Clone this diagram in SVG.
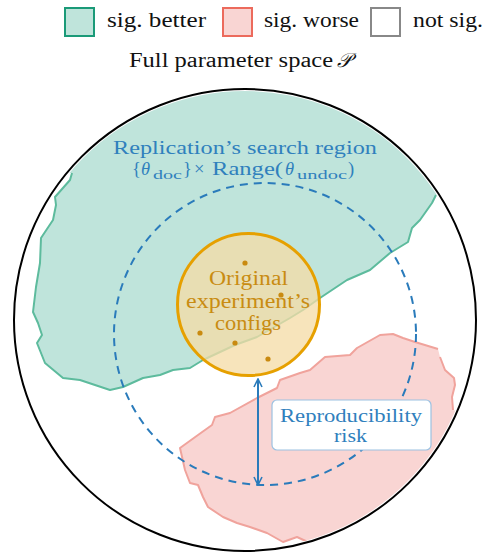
<svg xmlns="http://www.w3.org/2000/svg" width="490" height="555" viewBox="0 0 490 555">
<style>
.serif{font-family:"Liberation Serif","DejaVu Serif",serif}
.leg{font-size:20px;fill:#111}
.blue{fill:#2f80bd}
.orng{fill:#c98c12;font-size:20.5px}
.dot{fill:#c98a10}
</style>
<defs>
<clipPath id="inner"><circle cx="245" cy="320" r="229"/></clipPath>
<marker id="ah" viewBox="0 0 10 10" refX="9" refY="5" markerWidth="10" markerHeight="10" markerUnits="userSpaceOnUse" orient="auto-start-reverse">
<path d="M1,1 L9,5 L1,9" fill="none" stroke="#2a7bbb" stroke-width="1.6" stroke-linejoin="miter"/>
</marker>
</defs>
<rect width="490" height="555" fill="#fff"/>
<g id="legend">
<rect x="65" y="8" width="29" height="28" fill="#bfe4db" stroke="#1a9a78" stroke-width="2"/>
<text class="serif leg" x="107" y="27" textLength="99" lengthAdjust="spacingAndGlyphs">sig. better</text>
<rect x="223" y="8" width="29" height="28" fill="#f9d5d3" stroke="#ec6a5c" stroke-width="2"/>
<text class="serif leg" x="264" y="27" textLength="95" lengthAdjust="spacingAndGlyphs">sig. worse</text>
<rect x="371" y="8" width="29" height="28" fill="#fff" stroke="#888" stroke-width="2"/>
<text class="serif leg" x="413" y="27" textLength="70" lengthAdjust="spacingAndGlyphs">not sig.</text>
</g>
<g id="space-title">
<text class="serif leg" x="129" y="67" textLength="204" lengthAdjust="spacingAndGlyphs">Full parameter space</text>
<text x="337" y="67" font-family="DejaVu Serif, serif" font-style="italic" font-size="20" fill="#111">𝒫</text>
</g>
<g id="sig-better-region" clip-path="url(#inner)">
<polygon fill="#bfe4db" points="72,173 70,180 55,197 56,205 53,220 41,238 40,263 36,287 33,312 38,323 42,335 37,343 45,363 63,378 80,380 110,390 123,387 143,378 160,375 173,370 190,368 203,360 235,345 257,337 290,318 303,310 320,298 347,280 370,270 390,253 408,242 412,228 420,220 432,203 436,195 480,160 480,60 10,60 10,173"/>
<polyline fill="none" stroke="#5dbb9d" stroke-width="2" stroke-linejoin="round" points="72,173 70,180 55,197 56,205 53,220 41,238 40,263 36,287 33,312 38,323 42,335 37,343 45,363 63,378 80,380 110,390 123,387 143,378 160,375 173,370 190,368 203,360 235,345 257,337 290,318 303,310 320,298 347,280 370,270 390,253 408,242 412,228 420,220 432,203 436,195"/>
</g>
<g id="sig-worse-region" clip-path="url(#inner)">
<polygon fill="#f9d5d3" points="310,543 297,537 283,542 267,533 250,527 237,523 223,517 208,507 203,497 198,485 190,483 185,470 180,448 198,435 212,425 215,417 230,413 257,398 277,388 280,380 300,373 310,370 325,357 350,355 357,348 380,335 393,334 403,338 415,342 438,349 440,357 445,370 454,378 455,385 452,397 453,410 490,420 490,560 310,560"/>
<polyline fill="none" stroke="#f0a39c" stroke-width="2" stroke-linejoin="round" points="310,543 297,537 283,542 267,533 250,527 237,523 223,517 208,507 203,497 198,485 190,483 185,470 180,448 198,435 212,425 215,417 230,413 257,398 277,388 280,380 300,373 310,370 325,357 350,355 357,348 380,335 393,334 403,338 415,342 438,349"/>
<polyline fill="none" stroke="#f0a39c" stroke-width="2" stroke-linejoin="round" points="440,357 445,370 454,378 455,385 452,397 453,410"/>
</g>
<g id="parameter-space">
<circle cx="245" cy="320" r="231" fill="none" stroke="#000" stroke-width="2"/>
</g>
<g id="search-region">
<circle cx="265" cy="334" r="151" fill="none" stroke="#2a7bbb" stroke-width="2" stroke-dasharray="8 6"/>
<text class="serif blue" x="113" y="154" font-size="18.5" textLength="264" lengthAdjust="spacingAndGlyphs">Replication’s search region</text>
<text class="serif blue" y="175" font-size="18.5">
<tspan x="132">{</tspan><tspan x="141" font-style="italic">θ</tspan><tspan x="153" y="179" font-size="13" textLength="29" lengthAdjust="spacingAndGlyphs">doc</tspan><tspan x="183" y="175">}</tspan><tspan x="194">×</tspan><tspan x="212" textLength="71" lengthAdjust="spacingAndGlyphs">Range(</tspan><tspan x="285" font-style="italic">θ</tspan><tspan x="297" y="179" font-size="13" textLength="50" lengthAdjust="spacingAndGlyphs">undoc</tspan><tspan x="348" y="175">)</tspan>
</text>
</g>
<g id="original-configs">
<circle cx="248.5" cy="304.5" r="71" fill="#f5dca6" fill-opacity="0.77" stroke="#e6a000" stroke-width="3"/>
<circle class="dot" cx="245" cy="263" r="2.6"/>
<circle class="dot" cx="281" cy="295" r="2.6"/>
<circle class="dot" cx="200" cy="333" r="2.6"/>
<circle class="dot" cx="235" cy="343" r="2.6"/>
<circle class="dot" cx="268" cy="359" r="2.6"/>
<text class="serif orng" x="209" y="285" textLength="79" lengthAdjust="spacingAndGlyphs">Original</text>
<text class="serif orng" x="186" y="308" textLength="124" lengthAdjust="spacingAndGlyphs">experiment’s</text>
<text class="serif orng" x="215" y="330" textLength="66" lengthAdjust="spacingAndGlyphs">configs</text>
</g>
<g id="connectors">
<line x1="258" y1="379" x2="258" y2="485" stroke="#2a7bbb" stroke-width="2" marker-start="url(#ah)" marker-end="url(#ah)"/>
</g>
<g id="reproducibility-risk">
<rect x="272" y="400" width="159" height="50" rx="5" fill="#fff" stroke="#9cc2e2" stroke-width="1.2"/>
<text class="serif blue" x="280" y="422" font-size="19" textLength="142" lengthAdjust="spacingAndGlyphs">Reproducibility</text>
<text class="serif blue" x="334" y="442" font-size="19" textLength="33" lengthAdjust="spacingAndGlyphs">risk</text>
</g>
</svg>
